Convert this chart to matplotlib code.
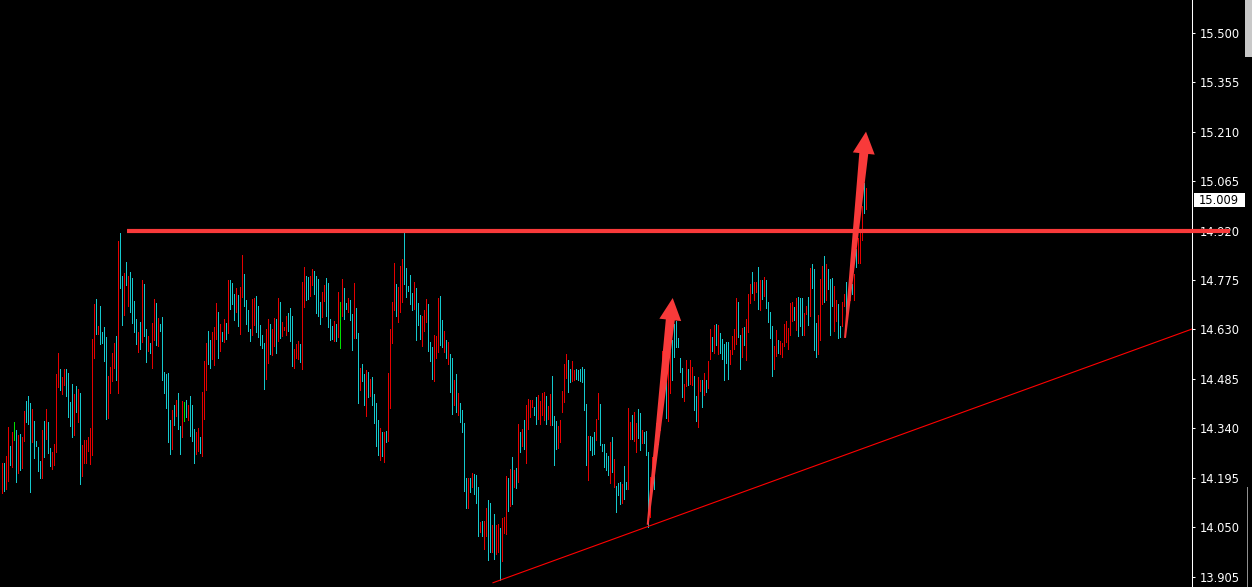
import matplotlib
matplotlib.use("Agg")
import matplotlib.pyplot as plt
from matplotlib.patches import Polygon, Rectangle
from matplotlib.transforms import blended_transform_factory
import numpy as np

# bar highs / lows, left to right (one bar every 2px)
bar_high = [
    # x 0-145
    14.239, 14.239, 14.259, 14.344, 14.288, 14.329, 14.358, 14.335, 14.320, 14.323, 14.314, 14.390,
    14.420, 14.434, 14.414, 14.396, 14.361, 14.303, 14.285, 14.244, 14.335, 14.361, 14.396, 14.358,
    14.282, 14.270, 14.294, 14.499, 14.560, 14.513, 14.490, 14.513, 14.513, 14.502, 14.417, 14.469,
    14.440, 14.464, 14.455, 14.443, 14.291, 14.305, 14.305, 14.314, 14.341, 14.601, 14.704, 14.718,
    14.639, 14.698, 14.622, 14.636, 14.607, 14.493, 14.519, 14.560, 14.589, 14.610, 14.888, 14.912,
    14.786, 14.794, 14.827, 14.786, 14.797, 14.780, 14.712, 14.660, 14.622, 14.651, 14.774, 14.762,
    # x 145-290
    14.630, 14.610, 14.589, 14.648, 14.718, 14.706, 14.662, 14.645, 14.665, 14.504, 14.498, 14.501,
    14.364, 14.393, 14.408, 14.422, 14.443, 14.346, 14.419, 14.416, 14.422, 14.408, 14.434, 14.408,
    14.337, 14.328, 14.340, 14.314, 14.446, 14.536, 14.589, 14.624, 14.598, 14.621, 14.636, 14.706,
    14.680, 14.645, 14.621, 14.659, 14.648, 14.776, 14.774, 14.765, 14.733, 14.750, 14.730, 14.753,
    14.847, 14.791, 14.715, 14.686, 14.630, 14.718, 14.721, 14.727, 14.700, 14.642, 14.615, 14.589,
    14.630, 14.659, 14.645, 14.630, 14.662, 14.659, 14.721, 14.709, 14.651, 14.636, 14.668, 14.677,
    14.694,
    # x 290-435
    14.669, 14.572, 14.587, 14.595, 14.587, 14.768, 14.812, 14.786, 14.783, 14.786, 14.806, 14.800,
    14.786, 14.777, 14.710, 14.739, 14.759, 14.780, 14.765, 14.660, 14.639, 14.654, 14.645, 14.739,
    14.710, 14.777, 14.751, 14.707, 14.721, 14.715, 14.674, 14.765, 14.692, 14.619, 14.516, 14.528,
    14.499, 14.510, 14.505, 14.484, 14.490, 14.440, 14.414, 14.364, 14.341, 14.329, 14.329, 14.332,
    14.502, 14.630, 14.710, 14.824, 14.762, 14.753, 14.815, 14.835, 14.915, 14.809, 14.756, 14.789,
    14.736, 14.768, 14.751, 14.707, 14.672, 14.669, 14.686, 14.718, 14.704, 14.593, 14.578, 14.613,
    # x 435-580
    14.610, 14.721, 14.727, 14.657, 14.624, 14.598, 14.593, 14.557, 14.545, 14.481, 14.498, 14.443,
    14.414, 14.393, 14.355, 14.194, 14.194, 14.194, 14.209, 14.206, 14.203, 14.168, 14.065, 14.068,
    14.068, 14.106, 14.130, 14.121, 14.056, 14.089, 14.056, 14.059, 14.048, 14.077, 14.080, 14.200,
    14.194, 14.220, 14.255, 14.217, 14.223, 14.352, 14.329, 14.337, 14.364, 14.408, 14.425, 14.422,
    14.422, 14.403, 14.431, 14.437, 14.419, 14.443, 14.446, 14.434, 14.405, 14.440, 14.493, 14.375,
    14.361, 14.346, 14.364, 14.449, 14.528, 14.557, 14.539, 14.513, 14.537, 14.510, 14.513, 14.510,
    14.513,
    # x 580-725
    14.519, 14.513, 14.410, 14.317, 14.317, 14.314, 14.328, 14.366, 14.442, 14.410, 14.293, 14.293,
    14.267, 14.258, 14.299, 14.314, 14.249, 14.170, 14.179, 14.182, 14.176, 14.229, 14.182, 14.398,
    14.358, 14.378, 14.387, 14.355, 14.396, 14.384, 14.334, 14.328, 14.331, 14.270, 14.198, 14.256,
    14.285, 14.354, 14.373, 14.451, 14.568, 14.549, 14.481, 14.529, 14.568, 14.598, 14.646, 14.656,
    14.604, 14.545, 14.516, 14.469, 14.539, 14.513, 14.539, 14.519, 14.492, 14.434, 14.489, 14.481,
    14.481, 14.501, 14.481, 14.536, 14.630, 14.609, 14.642, 14.647, 14.642, 14.618, 14.601, 14.586,
    # x 725-866
    14.592, 14.592, 14.569, 14.610, 14.630, 14.721, 14.709, 14.615, 14.633, 14.636, 14.659, 14.735,
    14.762, 14.797, 14.768, 14.768, 14.812, 14.776, 14.776, 14.785, 14.774, 14.709, 14.680, 14.639,
    14.581, 14.627, 14.598, 14.595, 14.589, 14.645, 14.654, 14.633, 14.706, 14.709, 14.697, 14.721,
    14.724, 14.721, 14.721, 14.677, 14.700, 14.724, 14.809, 14.823, 14.806, 14.648, 14.672, 14.779,
    14.815, 14.844, 14.823, 14.806, 14.779, 14.782, 14.756, 14.715, 14.703, 14.639, 14.709, 14.735,
    14.768, 14.747, 14.754, 14.764, 14.793, 14.865, 14.899, 14.923, 14.993, 15.058, 15.046,
]

bar_low = [
    # x 0-145
    14.151, 14.157, 14.163, 14.186, 14.233, 14.225, 14.305, 14.181, 14.210, 14.218, 14.223, 14.303,
    14.358, 14.353, 14.154, 14.300, 14.254, 14.289, 14.216, 14.195, 14.195, 14.257, 14.309, 14.268,
    14.230, 14.222, 14.233, 14.271, 14.462, 14.453, 14.441, 14.467, 14.435, 14.374, 14.347, 14.315,
    14.319, 14.388, 14.359, 14.178, 14.201, 14.239, 14.239, 14.274, 14.236, 14.263, 14.547, 14.617,
    14.617, 14.588, 14.590, 14.538, 14.368, 14.371, 14.444, 14.479, 14.517, 14.482, 14.444, 14.752,
    14.643, 14.672, 14.760, 14.699, 14.681, 14.649, 14.623, 14.588, 14.564, 14.573, 14.593, 14.611,
    # x 145-290
    14.534, 14.567, 14.561, 14.517, 14.599, 14.584, 14.581, 14.625, 14.482, 14.444, 14.400, 14.300,
    14.265, 14.280, 14.350, 14.376, 14.338, 14.265, 14.315, 14.362, 14.373, 14.365, 14.318, 14.303,
    14.239, 14.265, 14.274, 14.268, 14.259, 14.368, 14.452, 14.529, 14.517, 14.543, 14.526, 14.602,
    14.546, 14.567, 14.596, 14.593, 14.602, 14.619, 14.690, 14.704, 14.657, 14.681, 14.640, 14.616,
    14.725, 14.698, 14.646, 14.625, 14.596, 14.613, 14.643, 14.622, 14.608, 14.584, 14.575, 14.455,
    14.485, 14.531, 14.558, 14.555, 14.581, 14.561, 14.596, 14.605, 14.611, 14.628, 14.613, 14.625,
    14.596,
    # x 290-435
    14.522, 14.517, 14.547, 14.544, 14.535, 14.514, 14.696, 14.716, 14.719, 14.728, 14.760, 14.734,
    14.678, 14.670, 14.646, 14.667, 14.714, 14.670, 14.637, 14.599, 14.602, 14.596, 14.596, 14.608,
    14.576, 14.670, 14.661, 14.690, 14.681, 14.658, 14.570, 14.605, 14.605, 14.415, 14.453, 14.479,
    14.409, 14.377, 14.432, 14.435, 14.409, 14.356, 14.289, 14.263, 14.248, 14.260, 14.242, 14.301,
    14.304, 14.400, 14.590, 14.687, 14.670, 14.652, 14.681, 14.711, 14.763, 14.725, 14.743, 14.705,
    14.687, 14.690, 14.599, 14.643, 14.602, 14.582, 14.626, 14.652, 14.567, 14.538, 14.485, 14.479,
    # x 435-580
    14.546, 14.564, 14.584, 14.578, 14.564, 14.546, 14.529, 14.447, 14.382, 14.409, 14.388, 14.379,
    14.359, 14.330, 14.157, 14.107, 14.107, 14.154, 14.169, 14.148, 14.122, 14.025, 14.037, 14.025,
    13.987, 14.025, 13.955, 13.978, 13.978, 13.958, 13.972, 13.978, 13.896, 13.952, 14.034, 14.031,
    14.098, 14.113, 14.119, 14.169, 14.166, 14.183, 14.271, 14.289, 14.280, 14.239, 14.338, 14.374,
    14.403, 14.378, 14.353, 14.367, 14.353, 14.379, 14.365, 14.353, 14.368, 14.350, 14.350, 14.233,
    14.280, 14.283, 14.300, 14.388, 14.417, 14.488, 14.447, 14.476, 14.479, 14.482, 14.485, 14.482,
    14.479,
    # x 580-725
    14.476, 14.394, 14.233, 14.189, 14.276, 14.262, 14.265, 14.306, 14.367, 14.291, 14.274, 14.227,
    14.218, 14.203, 14.180, 14.212, 14.168, 14.095, 14.145, 14.118, 14.121, 14.133, 14.162, 14.162,
    14.309, 14.309, 14.303, 14.271, 14.311, 14.276, 14.297, 14.297, 14.262, 14.050, 14.081, 14.159,
    14.162, 14.276, 14.295, 14.334, 14.451, 14.451, 14.369, 14.362, 14.442, 14.481, 14.549, 14.578,
    14.578, 14.505, 14.432, 14.420, 14.464, 14.467, 14.471, 14.467, 14.394, 14.362, 14.344, 14.449,
    14.402, 14.438, 14.446, 14.458, 14.543, 14.568, 14.560, 14.583, 14.559, 14.561, 14.543, 14.481,
    # x 725-866
    14.530, 14.485, 14.529, 14.558, 14.572, 14.587, 14.608, 14.514, 14.549, 14.584, 14.540, 14.622,
    14.707, 14.736, 14.716, 14.739, 14.690, 14.687, 14.719, 14.728, 14.692, 14.652, 14.605, 14.494,
    14.514, 14.552, 14.561, 14.558, 14.549, 14.581, 14.593, 14.572, 14.613, 14.655, 14.657, 14.628,
    14.611, 14.640, 14.613, 14.613, 14.675, 14.643, 14.669, 14.751, 14.570, 14.549, 14.558, 14.600,
    14.704, 14.710, 14.716, 14.748, 14.613, 14.698, 14.625, 14.655, 14.605, 14.608, 14.640, 14.698,
    14.672, 14.696, 14.715, 14.735, 14.715, 14.813, 14.825, 14.825, 14.891, 14.970, 14.982,
]

# u = up bar (cyan), d = down bar (red), n = unchanged (green)
bar_dir = (
    "duddudnudu dduuuduuuu duduuddddu dduuuududu dddddddudu uuuddddudu ududuuuudu du"
    "ududduduuu uuududuudn uduuuddudd duudddudud uduuududdu uuudduuuuu dduddududd duu"
    "udddudduud duuuudduuu ududnduudu uduuduudud uuuudududd dduddduuuu uduuuddduu ud"
    "dduududuud uduuuududu uududduudu ddudddudud udududdddu uddddudduu uddddduudd uuu"
    "uuuduuuddu uuuududuuu duuddudduu duuuddudud duudduuuuu uddudduudd ududdududu uu"
    "uudddduudu ddduddudud uuuudduddd dddduduuud duduuudddu duuudduudd uddududddu d"
).replace(" ", "")

price_ticks = [13.905, 14.050, 14.195, 14.340, 14.485, 14.630,
               14.775, 14.920, 15.065, 15.210, 15.355, 15.500]
tick_labels = ["13.905", "14.050", "14.195", "14.340", "14.485", "14.630",
               "14.775", "14.920", "15.065", "15.210", "15.355", "15.500"]

last_price = 15.009
resistance = 14.920
resistance_x = [62.75, 614.25]
trend_x = [245.75, 595.25]
trend_y = [13.887, 14.631]
arrow_tail_x = [323.1, 421.75]
arrow_tail_y = [14.057, 14.605]
arrow_tip_x = [335.6, 432.25]
arrow_tip_y = [14.722, 15.210]

colour = {"u": "#14c8cc", "d": "#e60000", "n": "#00e000"}
arrow_red = "#f83a3a"

W, H = 1252, 587
fig = plt.figure(figsize=(W / 100, H / 100), dpi=100, facecolor="black")
ax = fig.add_axes([0, 0, 1192 / W, 1])
ax.set_facecolor("black")
ax.set_xlim(-0.75, 595.25)
ax.set_ylim(13.8745, 15.596)

x = np.arange(len(bar_high))
ax.vlines(x, bar_low, bar_high, colors=[colour[c] for c in bar_dir],
          linewidth=0.72, antialiased=False, zorder=2)

# support / resistance
ax.plot(resistance_x, [resistance, resistance], color=arrow_red, lw=3.0,
        solid_capstyle="butt", clip_on=False, zorder=5)
ax.plot(trend_x, trend_y, color="#ff0000", lw=0.8, zorder=4)


def fat_arrow(x0, y0, x1, y1):
    p0 = ax.transData.transform((x0, y0))
    p1 = ax.transData.transform((x1, y1))
    d = p1 - p0
    u = d / np.hypot(*d)
    n = np.array([-u[1], u[0]])
    base = p1 - u * 22
    pts = [p0 + n * 1.0, base + n * 4.5, base + n * 11, p1,
           base - n * 11, base - n * 4.5, p0 - n * 1.0]
    pts = ax.transData.inverted().transform(np.array(pts))
    ax.add_patch(Polygon(pts, closed=True, fc=arrow_red, ec="none", zorder=6))


for a in range(len(arrow_tip_x)):
    fat_arrow(arrow_tail_x[a], arrow_tail_y[a], arrow_tip_x[a], arrow_tip_y[a])

# price axis on the right
for s in ["left", "top", "bottom"]:
    ax.spines[s].set_visible(False)
ax.spines["right"].set_color("white")
ax.spines["right"].set_linewidth(0.75)
ax.set_xticks([])
ax.yaxis.tick_right()
ax.set_yticks(price_ticks)
ax.set_yticklabels(tick_labels)
ax.tick_params(axis="y", colors="white", length=2.5, width=0.75, pad=3,
               labelsize=8.3, direction="out")

# current price tag
trans = blended_transform_factory(ax.transAxes, ax.transData)
px = (15.596 - 13.8745) / H
ax.add_patch(Rectangle((1194 / 1192, last_price - 7 * px), 51 / 1192, 14 * px,
                       transform=trans, fc="white", ec="none", clip_on=False, zorder=7))
ax.text(1.0 + 7 / 1192, last_price, f"{last_price:.3f}", transform=trans,
        ha="left", va="center", fontsize=8.3, color="black", clip_on=False, zorder=8)

# bits of the window frame on the far right
fig.add_artist(Rectangle((1245 / W, 1 - 57 / H), 7 / W, 57 / H,
                         transform=fig.transFigure, fc="#c8c8c8", ec="none"))
fig.add_artist(Rectangle((1247 / W, 0), 1 / W, 100 / H,
                         transform=fig.transFigure, fc="#909090", ec="none"))

fig.savefig("out.png", dpi=100, facecolor="black")
